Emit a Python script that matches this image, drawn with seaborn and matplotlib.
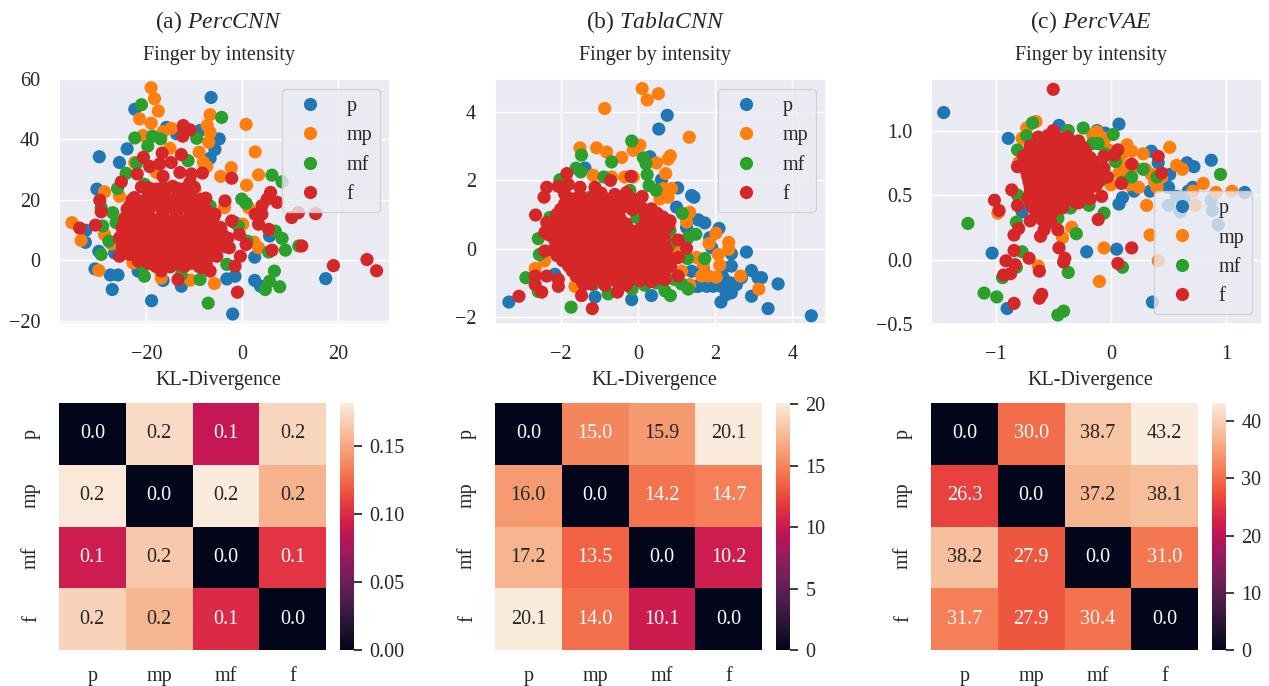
import numpy as np
import pandas as pd
import matplotlib
matplotlib.use("Agg")
import matplotlib.pyplot as plt
import matplotlib.ticker as mticker
import seaborn as sns

labels = ["p", "mp", "mf", "f"]

# (a) PercCNN, values
cnn_p = [(-6.5, 53.9), (-22.4, 50), (-29.8, 34.3), (-25.6, 32.4), (-24, 36.9), (-30.3, 23.6), (-32.6, 10), (-32.7, 6),
         (-29.9, 3), (-30.7, -2.8), (-27.5, -4.8), (-25.9, -4.8), (-27.1, -9.6), (-18.9, -13.3), (-12.7, -8.5),
         (-16.5, -6.6), (-2, -17.7), (-3.2, -6.1), (-1.5, -5.2), (2.6, -6.6), (3.8, -8.5), (17.4, -6), (2.6, 1.1),
         (5.7, 8.1), (-15.8, 44), (-8.8, 43), (-4.8, 40.2), (-5.7, 36.7), (-6.7, 33.8), (-13.7, 41.9), (-26.6, 2.5),
         (-21.7, -3.5), (-1.5, 12.5)]
cnn_mp = [(-19, 57.1), (-18.3, 53.5), (-17.5, 49.4), (-21.4, 46.8), (-19, 45.4), (-20.7, 41.3), (-14.8, 43.7),
          (-16.5, 42.6), (-6.7, 48.2), (-7.3, 44.6), (-6.7, 42.4), (-7, 39.1), (0.8, 45), (2.7, 35.9), (-15.1, 37.1),
          (-9, 35.8), (-8.1, 32.4), (-7.4, 31.1), (-2.3, 30.7), (-4.5, 27.8), (3.4, 28.3), (0.9, 24.9), (-28.7, 22.7),
          (-25.6, 21.2), (-35.5, 12.5), (-33.6, 6.6), (-28.7, 8.6), (-27.3, 5.5), (-29.9, -3.3), (-16.9, -5.8),
          (-10.8, -6.5), (-5.8, -7.6), (0.1, 12), (-3.7, 17.5), (1.3, 17.5), (2.4, 6.1), (3.4, 4.2), (-9.9, 23.6),
          (-22.4, 32.4), (-22.8, -0.8), (-17.9, 29.1)]
cnn_mf = [(-21, 51.5), (-4.3, 47.3), (-22.4, 40.5), (-18.7, 41.1), (-17, 40.2), (-19.7, 37.8), (-9.5, 40.4),
          (-11.3, 33), (-22, 32.2), (-24.2, 28.8), (-26, 23.8), (6.2, 28.2), (8.3, 26), (-0.1, 20.3), (0.8, 18.9),
          (-27, 15.8), (-26.3, 12.5), (-29.1, 11.4), (-27.8, 6.4), (-29.4, 2), (-29.4, 17.5), (6.9, 9.7), (8.3, 7.3),
          (9, 3.4), (5.5, 2.8), (11.8, 4.8), (6.7, -3.5), (5.7, -6.9), (4.8, -9.6), (7.8, -8.7), (-7.1, -14.1),
          (-8.8, -6.3), (-12.7, -4.7), (-20.4, -5.2), (-20.7, -1.9), (-3.2, -1.3), (-6.7, 18), (-0.8, 11.4), (1, 6.4),
          (-3.2, 5.3), (-20.4, 25.2)]
cnn_f = [(-12.3, 44.6), (-10.9, 43.2), (-12.4, 41.1), (-16.7, 35.5), (-12.7, 35), (-20.6, 34.1), (-19.3, 31.1),
         (-17.2, 31.9), (-14.8, 32.4), (-8.3, 28.9), (-10.6, 28.6), (-13, 29.1), (-21.9, 28.6), (-25.2, 26),
         (-16.5, 27.8), (-2.2, 27.2), (-10.9, 25.8), (-29.7, 19.9), (-29.4, 16.1), (-30.6, 11.7), (-33.9, 10.7),
         (-25.6, 1.4), (-7.6, 20.6), (-3.6, 19.7), (5.9, 22.5), (5.2, 20.3), (7.3, 19.2), (4.1, 18.1), (2.7, 15.3),
         (4.1, 15.3), (3.4, 12), (5.5, 10.3), (10.3, 14.2), (11.7, 15.8), (15.3, 15.5), (6.2, 3.4), (12.4, 4.8),
         (19, -1.7), (26, 0.3), (28, -3.4), (-1, -10.5), (-13.4, -6.3), (-16.9, -3.5), (-1.5, -1.9), (-0.4, 1.4),
         (0.8, 5.3), (-0.6, 8.6), (-2.7, 4.2), (-2.2, 13.1), (-5.7, 15.3), (-4.3, 9.2), (-6.7, -3.5), (-8.5, -2.4),
         (-5.3, 1.4), (-6.4, 2), (-21.7, -0.2),
         (-21, 24.3), (-18, 23.6), (-14.5, 24.5), (-12, 23.8), (-10, 24.2), (-22.5, 20.8), (-19.5, 21.4), (-16.3, 20.6),
         (-13.2, 21.3), (-10.4, 20.7), (-23.4, 18.2), (-21, 17.6), (-18, 18.3), (-15, 17.7), (-12, 18.4), (-9.2, 17.6),
         (-22, 15.2), (-19.4, 14.6), (-16.6, 15.3), (-13.8, 14.7), (-10.9, 15.2), (-8.3, 14.6), (-24, 12.2),
         (-21.2, 11.7), (-18.2, 12.3), (-15.3, 11.6), (-12.5, 12.2), (-9.6, 11.8), (-6.9, 12.1), (-24.6, 9.2),
         (-22.3, 8.7), (-19.5, 9.3), (-16.8, 8.8), (-14, 9.2), (-11, 8.7), (-8.2, 9.3), (-5.5, 8.8), (-24.9, 6.2),
         (-21.3, 5.7), (-18.4, 6.3), (-15.4, 5.8), (-12.6, 6.2), (-9.7, 5.7), (-6.8, 6.3), (-4.2, 5.8), (-23, 3.2),
         (-20, 2.7), (-17, 3.3), (-14, 2.8), (-11, 3.2), (-8.3, 2.7), (-21, 0.3), (-18, -0.3), (-15, 0.2),
         (-12.3, -0.2), (-9.5, 0.3),
         (-19.5, 22.5), (-16.2, 22.6), (-13.2, 22.4), (-11, 22.5), (-21, 19.5), (-18, 19.6), (-14.8, 19.4), (-11.8, 19.5),
         (-9, 19.6), (-22.5, 16.5), (-19.6, 16.6), (-16.5, 16.4), (-13.5, 16.5), (-10.5, 16.6), (-8, 16.4), (-23.4, 13.5),
         (-20.6, 13.6), (-17.4, 13.4), (-14.4, 13.5), (-11.4, 13.6), (-8.6, 13.4), (-25, 10.5), (-22.6, 10.6),
         (-19.8, 10.4), (-16.8, 10.5), (-14, 10.6), (-11, 10.4), (-8.2, 10.5), (-5.8, 10.6), (-25.6, 7.5), (-23, 7.6),
         (-20, 7.4), (-17, 7.5), (-14, 7.6), (-11, 7.4), (-8.3, 7.5), (-5.3, 7.6), (-3, 7.4), (-24, 4.5), (-21, 4.6),
         (-18, 4.4), (-15, 4.5), (-12, 4.6), (-9, 4.4), (-6, 4.5), (-3.5, 4.6), (-22, 1.5), (-19, 1.6), (-16, 1.4),
         (-13, 1.5), (-10, 1.6), (-7.5, 1.4), (-18, -2), (-15, -2.1), (-12, -1.9), (-9, -2),
         (-19.5, 24), (-16.5, 24.2), (-13.5, 23.8), (-11, 24.1), (-23, 20), (-20, 20.2), (-17.5, 19.8), (-14.5, 20.1),
         (-11.5, 19.9), (-8.5, 20.2), (-24, 17), (-22, 17.2), (-19.5, 16.8), (-16.5, 17.1), (-13.5, 16.9), (-10.5, 17.2),
         (-7.5, 16.8), (-24.5, 14), (-22, 14.2), (-19.5, 13.8), (-17, 14.1), (-14, 13.9), (-11, 14.2), (-8, 13.8),
         (-6, 14.1), (-25, 11), (-23.5, 11.2), (-21, 10.8), (-18, 11.1), (-15.5, 10.9), (-12.5, 11.2), (-9.5, 10.8),
         (-7, 11.1), (-4.5, 10.9), (-24, 8), (-21, 8.2), (-18.5, 7.8), (-15.5, 8.1), (-12.5, 7.9), (-9.5, 8.2),
         (-6.5, 7.8), (-4, 8.1), (-25, 5), (-22.5, 5.2), (-19.5, 4.8), (-16.5, 5.1), (-13.5, 4.9), (-10.5, 5.2),
         (-7.5, 4.8), (-5, 5.1), (-23.5, 2), (-20.5, 2.2), (-17.5, 1.8), (-14.5, 2.1), (-11.5, 1.9), (-8.5, 2.2),
         (-6, 1.8), (-19.5, -1), (-16.5, -0.8), (-13.5, -1.2), (-10.5, -0.9), (-7.5, -1.1)]

# (b) TablaCNN
tabla_p = [(-3.34, -1.56), (4.49, -1.96), (3.37, -1.75), (3.63, -1.03), (2.94, -1.39), (2.15, -1.56), (2.42, -1.29),
           (3.11, -0.85), (3.2, -0.85), (2.94, -0.64), (2.81, -0.1), (2.42, -0.15), (2.42, -0.51), (2.68, -0.85),
           (2.55, -1.05), (2.29, -1.15), (2.21, -0.85), (2.08, -0.95), (2.29, -1.34), (1.78, -1.1), (1.56, -1.1),
           (2.1, 0.59), (1.73, 0.75), (1.56, 0.84), (1.86, 0.32), (1.91, 0.03), (1.39, 1.55), (1.45, 1.5),
           (1.03, 1.77), (0.61, 2.01), (0.31, 2.68), (0.54, 3.49), (0.76, 3.89), (-1.37, 2.35), (-0.16, -1.49),
           (0.35, -1.37), (-1.11, -1.41), (1, 1.21), (1.26, 0.62), (1.39, -0.66), (-2.15, -0.75), (-0.55, -0.95),
           (1.69, -0.56), (2.21, -0.56), (1.5, -1.1), (1.95, -1.1), (2.4, -1), (2.15, -1.1)]
tabla_mp = [(0.11, 4.67), (0.53, 4.52), (0.24, 4.34), (-0.86, 4.09), (1.33, 3.25), (-1.5, 2.94), (-1.07, 2.94),
            (-0.81, 2.82), (-0.42, 2.66), (-0.12, 2.87), (0.05, 3.02), (0.48, 2.5), (0.78, 2.61), (0.84, 2.71),
            (0.72, 2.19), (-1.16, 2.14), (-0.68, 2.09), (-0.34, 2.09), (-0.12, 2.09), (0.66, 1.75), (0.87, 1.75),
            (0.78, 1.5), (0.57, 1.45), (1.34, 1.06), (1.26, 0.78), (2.02, 0.45), (1.84, 0.15), (2.35, 0.18),
            (2.35, -0.02), (2.08, -0.17), (2.12, -0.48), (1.52, -0.26), (1.69, -0.46), (1.65, -0.8), (2.03, -0.83),
            (1.82, -0.8), (2.66, -0.8), (3.13, -1.18), (1.13, -0.66), (1.34, -1.05), (-2.66, -0.58), (-2.42, -0.36),
            (-1.63, -1.1), (1.04, -0.12)]
tabla_mf = [(-0.16, 3.14), (-1.46, 2.73), (-0.68, 2.53), (0.14, 2.65), (0.21, 2.48), (0.24, 2.16), (0.29, 1.84),
            (0.47, 1.7), (-1.6, 2.35), (-1.48, 2.24), (-0.88, 2.09), (-2.02, 2.01), (-0.21, 1.7), (1.15, 1.03),
            (1.5, 0.42), (1.3, 0.32), (1.73, -0.29), (1.28, -0.29), (-2.58, 0.29), (-2.55, -0.17), (-2.9, -0.85),
            (-2.58, -1.25), (-1.73, -1.71), (-0.77, -1.32), (-0.15, -1.18), (0.18, -1.07), (0.7, -1.23), (0.84, -1.37),
            (1.3, -1.18), (1.13, -1.03), (0.48, -1), (-1.16, -1.05), (0.83, 0.13), (-2.28, 0.91), (0.83, 0.52),
            (-1.24, 1.5), (-0.03, 0.91), (0.95, -0.9)]
tabla_f = [(-3.08, -1.39), (-1.18, -1.75), (-0.53, -1.27), (-1.46, -1.37), (-2.49, -1.27), (-2.66, -1.05), (-2.66, -0.8),
           (-2.36, -0.8), (-2.06, -1.1), (-2.06, -0.9), (-2.65, 0.98), (-2.43, 1.5), (-2.36, 1.79), (-2.06, 1.82),
           (-1.84, 2.19), (-1.8, 1.87), (-1.5, 1.79), (-0.18, 2.11), (-0.71, 1.99), (-1.11, 1.79), (0.11, 1.52),
           (-0.12, 1.3), (0.83, 0.81), (1.04, 0.25), (1.26, 0.01), (1.04, -0.26), (1.04, -0.8), (0.7, -0.9),
           (0.34, -0.95), (-2.41, -0.07), (-2.41, 0.47), (-2.36, 0.76),
           (-1.9, 1.6), (-1.5, 1.55), (-0.95, 1.62), (-0.6, 1.58), (-0.3, 1.63), (-1.9, 1.3), (-1.6, 1.27), (-1.3, 1.33),
           (-0.95, 1.3), (-0.65, 1.27), (-0.3, 1.32), (-2.1, 1), (-1.75, 1.03), (-1.45, 0.98), (-1.15, 1.02), (-0.8, 0.98),
           (-0.5, 1.02), (0.2, 1), (0.5, 1.03), (-2.2, 0.7), (-1.85, 0.68), (-1.55, 0.72), (-1.2, 0.68), (-0.9, 0.72),
           (-0.6, 0.68), (-0.3, 0.72), (0.35, 0.72), (0.65, 0.68), (-2.3, 0.4), (-2, 0.42), (-1.65, 0.38),
           (-1.35, 0.42), (-1.05, 0.38), (-0.7, 0.42), (-0.4, 0.38), (-0.1, 0.42), (0.2, 0.38), (0.55, 0.42), (-2, 0.1),
           (-1.7, 0.13), (-1.4, 0.08), (-1.1, 0.12), (-0.8, 0.08), (-0.5, 0.12), (-0.2, 0.08), (0.1, 0.12), (0.4, 0.08),
           (0.6, 0.12), (-2.1, -0.2), (-1.8, -0.18), (-1.5, -0.22), (-1.2, -0.18), (-0.9, -0.22), (-0.6, -0.18),
           (-0.3, -0.22), (0, -0.18), (0.3, -0.22), (0.6, -0.18), (-1.8, -0.5), (-1.5, -0.48), (-0.95, -0.52),
           (-0.65, -0.48), (-0.35, -0.52), (-0.05, -0.48), (0.3, -0.52), (0.6, -0.48), (0.85, -0.52), (-1.6, -0.8),
           (-1.3, -0.78), (-1, -0.82), (-0.7, -0.78), (-0.4, -0.82), (-0.1, -0.78), (0.2, -0.82), (0.5, -0.78),
           (-1.4, -1.05), (-1.2, -1.03), (-0.85, -1.07), (-0.5, -1.03), (-0.3, -1.07),
           (-1.7, 1.45), (-1.2, 1.47), (-0.8, 1.44), (-0.45, 1.46), (-0.1, 1.44), (-2, 1.15), (-1.75, 1.17), (-1.45, 1.13),
           (-1.1, 1.16), (-0.8, 1.14), (-0.45, 1.16), (-0.15, 1.14), (0.35, 1.16), (-2, 0.85), (-1.7, 0.87), (-1.35, 0.83),
           (-1.05, 0.86), (-0.75, 0.84), (-0.45, 0.86), (0.2, 0.84), (0.5, 0.86), (-2.05, 0.55), (-1.7, 0.57), (-1.4, 0.53),
           (-1.05, 0.56), (-0.75, 0.54), (-0.45, 0.56), (-0.2, 0.54), (0.05, 0.56), (0.35, 0.54), (0.7, 0.56), (-2.15, 0.25),
           (-1.85, 0.27), (-1.55, 0.23), (-1.25, 0.26), (-0.95, 0.24), (-0.65, 0.26), (-0.35, 0.24), (-0.05, 0.26),
           (0.25, 0.24), (0.5, 0.26), (-2.2, -0.05), (-1.85, -0.03), (-1.55, -0.07), (-1.25, -0.04), (-0.95, -0.06),
           (-0.65, -0.04), (-0.35, -0.06), (-0.05, -0.04), (0.25, -0.06), (0.5, -0.04), (-1.95, -0.35), (-1.65, -0.33),
           (-1.35, -0.37), (-1.05, -0.34), (-0.75, -0.36), (-0.45, -0.34), (-0.15, -0.36), (0.15, -0.34), (0.45, -0.36),
           (0.75, -0.34), (-1.7, -0.65), (-1.4, -0.63), (-1.1, -0.67), (-0.8, -0.64), (-0.5, -0.66), (-0.2, -0.64),
           (0.1, -0.66), (0.4, -0.64), (0.7, -0.66), (-1.45, -0.95), (-1.15, -0.93), (-0.85, -0.97), (-0.55, -0.94),
           (-0.25, -0.96), (0.05, -0.94), (0.35, -0.96),
           (-1.6, 1.2), (-1.25, 1.22), (-0.55, 1.18), (-0.05, 1.21), (0.1, 1.19), (0.35, 0.9), (0.65, 0.92), (0.15, 0.65),
           (0.5, 0.63), (0.8, 0.66), (0.05, 0.3), (0.35, 0.32), (0.7, 0.28), (0.15, 0), (0.4, 0.02), (0.75, -0.02),
           (0.15, -0.25), (0.45, -0.23), (0.8, -0.27), (0.15, -0.55), (0.45, -0.53), (0.75, -0.57), (0.05, -0.85),
           (0.35, -0.83), (0.6, -0.87), (-0.25, -0.85), (-0.55, -0.83), (-0.85, -0.87), (-1.2, -0.4), (-0.9, -0.38),
           (-0.6, -0.42), (-0.3, -0.39), (-1.4, 0.05), (-1.1, 0.03), (-0.8, 0.06), (-0.5, 0.04), (-0.2, 0.06),
           (-1.2, 0.4), (-0.9, 0.42), (-0.55, 0.38), (-0.25, 0.41), (-1.25, 0.85), (-0.9, 0.87), (-0.6, 0.83)]

# (c) PercVAE
vae_p = [(-1.45, 1.14), (-0.89, 0.94), (0.07, 1.05), (-0.45, 1.04), (0.35, 0.84), (0.41, 0.75), (0.87, 0.77),
         (0.66, 0.75), (0.72, 0.72), (0.51, 0.66), (0.5, 0.56), (0.34, 0.53), (0.2, 0.53), (0.71, 0.56), (0.67, 0.53),
         (1.16, 0.52), (0.57, 0.49), (0.5, 0.42), (0.64, 0.45), (0.6, 0.37), (0.87, 0.46), (0.88, 0.38), (0.93, 0.27),
         (0.1, 0.48), (0.07, 0.43), (-1.03, 0.05), (-0.21, 0.06), (0.05, 0.08), (-0.9, -0.38), (0.36, -0.33),
         (-0.77, 0.37), (-0.05, 0.98), (-0.12, 1)]
vae_mp = [(-0.65, 1.07), (-0.73, 1.02), (-0.77, 0.94), (-0.12, 0.99), (-0.05, 0.94), (-0.16, 0.97), (0.14, 0.89),
          (0.18, 0.84), (0.28, 0.82), (0.51, 0.87), (0.57, 0.73), (0.62, 0.7), (0.11, 0.72), (0.07, 0.67), (0.44, 0.64),
          (0.38, 0.6), (0.35, 0.66), (0.24, 0.56), (0.8, 0.59), (0.71, 0.53), (0.91, 0.52), (1.05, 0.53), (0.31, 0.42),
          (0.73, 0.42), (0, 0.58), (0.34, 0.19), (-0.06, 0.09), (0.41, -0.01), (-0.1, -0.17), (-0.34, 0.25),
          (-0.42, 0.17), (-0.63, -0.05), (-0.98, 0.36), (-0.8, 0.75), (0.15, 0.64), (-0.02, 0.85), (0.2, 0.72),
          (0.1, 0.82), (-0.12, 0.9), (0.3, 0.7), (0.16, 0.58), (0.4, 0.56)]
vae_mf = [(-0.68, 1.06), (-0.73, 0.96), (-0.37, 1), (-0.24, 1.02), (0.02, 0.97), (-0.16, 0.9), (-0.11, 0.9),
          (-0.81, 0.85), (0.04, 0.76), (0.28, 0.7), (0.18, 0.64), (0.4, 0.64), (0.95, 0.66), (0.1, 0.6), (-0.81, 0.5),
          (-0.35, 0.4), (-0.19, 0.42), (-0.06, 0.36), (-0.46, 0.32), (-0.82, 0.29), (-1.24, 0.28), (-0.3, 0.2),
          (-0.77, 0.06), (-0.37, -0.1), (0.1, -0.06), (-0.82, -0.06), (-0.94, -0.14), (-1.1, -0.26), (-0.99, -0.29),
          (-0.46, -0.43), (-0.41, -0.4), (-0.05, 0.82), (-0.08, 0.62)]
vae_f = [(-0.5, 1.32), (0.41, 0.8), (0.44, 0.67), (0.18, 0.74), (0.09, 0.59), (0.06, 0.85), (0.03, 0.81), (-0.06, 0.8),
         (-0.06, 0.71), (-0.03, 0.64), (-0.11, 0.6), (-0.08, 0.49), (-0.18, 0.47), (-0.28, 0.44), (-0.86, 0.54),
         (-1.01, 0.46), (-0.97, 0.38), (-0.81, 0.72), (-0.81, 0.42), (-0.11, 0.31), (0.18, 0.09), (0.06, -0.03),
         (-0.8, 0.24), (-0.84, 0.19), (-0.7, 0.3), (-0.6, 0.31), (-0.52, 0.29), (-0.58, 0.23), (-0.61, 0.18),
         (-0.46, 0.23), (-0.45, 0.09), (-0.4, 0.01), (-0.41, -0.02), (-0.84, 0.07), (-0.71, 0.01), (-0.83, -0.04),
         (-0.91, -0.01), (-0.93, -0.12), (-0.87, -0.11), (-0.62, -0.09), (-0.6, -0.27), (-0.62, -0.3), (-0.84, -0.34),
         (-0.5, 1.0), (-0.63, 0.95), (-0.55, 0.96), (-0.45, 0.94), (-0.38, 0.95), (-0.7, 0.88), (-0.6, 0.87), (-0.5, 0.89),
         (-0.4, 0.87), (-0.32, 0.89), (-0.24, 0.87), (-0.76, 0.8), (-0.66, 0.81), (-0.56, 0.79), (-0.46, 0.81),
         (-0.36, 0.79), (-0.26, 0.81), (-0.18, 0.79), (-0.74, 0.72), (-0.64, 0.71), (-0.54, 0.73), (-0.44, 0.71),
         (-0.34, 0.73), (-0.24, 0.71), (-0.14, 0.73), (-0.72, 0.64), (-0.62, 0.65), (-0.52, 0.63), (-0.42, 0.65),
         (-0.32, 0.63), (-0.22, 0.65), (-0.12, 0.63), (-0.7, 0.56), (-0.6, 0.55), (-0.5, 0.57), (-0.4, 0.55),
         (-0.3, 0.57), (-0.2, 0.55), (-0.13, 0.57), (-0.72, 0.48), (-0.62, 0.49), (-0.52, 0.47), (-0.42, 0.49),
         (-0.32, 0.47), (-0.24, 0.49), (-0.68, 0.41), (-0.58, 0.4), (-0.5, 0.42), (-0.42, 0.4), (-0.65, 0.36), (-0.55, 0.35),
         (-0.58, 0.92), (-0.46, 0.91), (-0.36, 0.93), (-0.28, 0.92), (-0.7, 0.84), (-0.6, 0.83), (-0.5, 0.85), (-0.4, 0.84),
         (-0.3, 0.83), (-0.22, 0.84), (-0.75, 0.76), (-0.65, 0.75), (-0.55, 0.77), (-0.45, 0.76), (-0.35, 0.75),
         (-0.25, 0.77), (-0.15, 0.76), (-0.73, 0.68), (-0.63, 0.67), (-0.53, 0.69), (-0.43, 0.68), (-0.33, 0.67),
         (-0.23, 0.69), (-0.13, 0.68), (-0.71, 0.6), (-0.61, 0.59), (-0.51, 0.61), (-0.41, 0.6), (-0.31, 0.59),
         (-0.21, 0.61), (-0.12, 0.6), (-0.7, 0.52), (-0.6, 0.51), (-0.5, 0.53), (-0.4, 0.52), (-0.3, 0.51), (-0.2, 0.53),
         (-0.7, 0.44), (-0.6, 0.45), (-0.5, 0.44), (-0.4, 0.45), (-0.3, 0.44), (-0.6, 0.38), (-0.5, 0.37)]

cnn_kl = [[0.0, 0.174, 0.088, 0.172], [0.18, 0.0, 0.182, 0.155], [0.092, 0.165, 0.0, 0.105], [0.17, 0.157, 0.1, 0.0]]
tabla_kl = [[0.0, 15.0, 15.9, 20.1], [16.0, 0.0, 14.2, 14.7], [17.2, 13.5, 0.0, 10.2], [20.1, 14.0, 10.1, 0.0]]
vae_kl = [[0.0, 30.0, 38.7, 43.2], [26.3, 0.0, 37.2, 38.1], [38.2, 27.9, 0.0, 31.0], [31.7, 27.9, 30.4, 0.0]]

titles = [r"(a) $\mathit{PercCNN}$", r"(b) $\mathit{TablaCNN}$", r"(c) $\mathit{PercVAE}$"]
scatter_sets = [[cnn_p, cnn_mp, cnn_mf, cnn_f], [tabla_p, tabla_mp, tabla_mf, tabla_f], [vae_p, vae_mp, vae_mf, vae_f]]
kl_sets = [cnn_kl, tabla_kl, vae_kl]
xlims = [(-38.2, 30.8), (-3.7, 4.87), (-1.56, 1.31)]
ylims = [(-21, 60), (-2.2, 4.95), (-0.5, 1.4)]
xticks = [[-20, 0, 20], [-2, 0, 2, 4], [-1, 0, 1]]
yticks = [[-20, 0, 20, 40, 60], [-2, 0, 2, 4], [-0.5, 0, 0.5, 1.0]]
cbar_ticks = [[0, 0.05, 0.10, 0.15], [0, 5, 10, 15, 20], [0, 10, 20, 30, 40]]
cbar_fmt = ["%.2f", "%d", "%d"]
legend_loc = ["upper right", "upper right", "lower right"]

sns.set_theme(style="darkgrid", font="Liberation Serif", font_scale=1.0)
plt.rcParams["mathtext.fontset"] = "custom"
plt.rcParams["mathtext.it"] = "Liberation Serif:italic"
plt.rcParams["mathtext.rm"] = "Liberation Serif"
plt.rcParams["text.color"] = "#262626"

W, H = 1269, 686
fig = plt.figure(figsize=(W / 100, H / 100), dpi=100)


def box(x0, y0, x1, y1):
    return [x0 / W, 1 - y1 / H, (x1 - x0) / W, (y1 - y0) / H]


scatter_left = [59, 495, 931]
for i in range(3):
    left = scatter_left[i]
    ax = fig.add_axes(box(left, 79, left + 331, 324))
    frames = []
    for name, pts in zip(labels, scatter_sets[i]):
        df = pd.DataFrame(pts, columns=["x", "y"])
        df["finger"] = name
        frames.append(df)
    data = pd.concat(frames)
    sns.scatterplot(data=data, x="x", y="y", hue="finger", hue_order=labels, palette="tab10",
                    s=90, linewidth=0, alpha=1, ax=ax)
    ax.set_xlim(xlims[i])
    ax.set_ylim(ylims[i])
    ax.set_xticks(xticks[i])
    ax.set_yticks(yticks[i])
    ax.tick_params(labelsize=14.5)
    ax.tick_params(axis="x", pad=9)
    ax.tick_params(axis="y", pad=7.5)
    ax.set_xlabel("KL-Divergence", fontsize=14.5, x=0.483, labelpad=5.5)
    ax.set_ylabel("")
    ax.set_title("Finger by intensity", fontsize=14.5, x=0.483, pad=13.5)
    fig.text((left + 160) / W, 1 - 22.5 / H, titles[i], fontsize=17, ha="center", va="center")
    ax.legend(loc=legend_loc[i], fontsize=14.5, framealpha=0.8, title=None)

    hm = fig.add_axes(box(left, 403, left + 267, 650))
    cax = fig.add_axes(box(left + 281, 403, left + 295, 650))
    table = pd.DataFrame(kl_sets[i], index=labels, columns=labels)
    sns.heatmap(table, annot=True, fmt=".1f", annot_kws={"fontsize": 14.5}, ax=hm, cbar_ax=cax)
    hm.tick_params(labelsize=14.5, length=0)
    hm.tick_params(axis="x", pad=12.5)
    hm.tick_params(axis="y", pad=13)
    cax.set_yticks(cbar_ticks[i])
    cax.yaxis.set_major_formatter(mticker.FormatStrFormatter(cbar_fmt[i]))
    cax.tick_params(labelsize=14.5, right=True, length=6, width=1.25, color="#262626", pad=5)

fig.savefig("out.png", dpi=100)
